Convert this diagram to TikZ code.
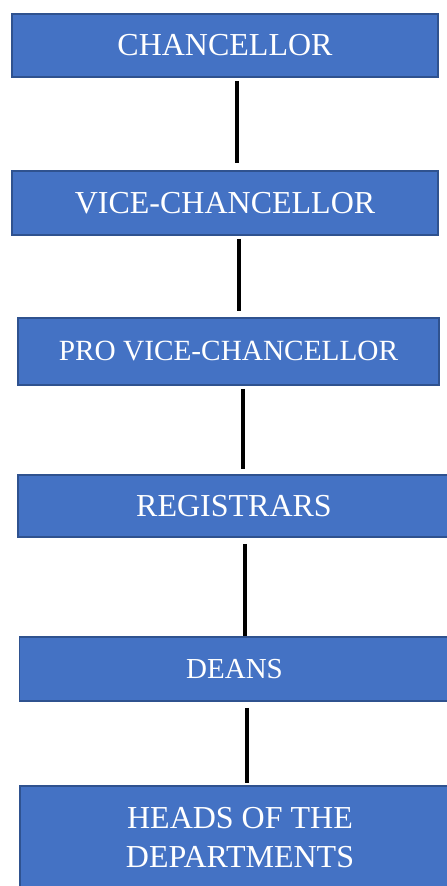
\documentclass[tikz,border=0pt]{standalone}
\usepackage{fontspec}
\setmainfont{Liberation Serif}
\definecolor{boxfill}{HTML}{4472C4}
\definecolor{boxline}{HTML}{2F528F}
\begin{document}
\begin{tikzpicture}[x=1pt,y=-1pt,
  orgbox/.style={draw=boxline, line width=1.6pt, fill=boxfill, text=white, inner sep=0pt, align=center, font=\fontsize{32}{39}\selectfont},
  link/.style={line width=3.2pt, black}]
\useasboundingbox (0,0) rectangle (447,886);
\clip (0,0) rectangle (447,886);
\node[orgbox, minimum width=426pt, minimum height=63pt] (c) at (225,45.5) {CHANCELLOR};
\node[orgbox, minimum width=426pt, minimum height=64pt] (v) at (225,203) {VICE-CHANCELLOR};
\node[orgbox, minimum width=421pt, minimum height=67pt, font=\fontsize{29.3}{35}\selectfont] (p) at (228.5,351.5) {PRO VICE-CHANCELLOR};
\node[orgbox, minimum width=432pt, minimum height=62pt] (r) at (234,506) {REGISTRARS};
\node[orgbox, minimum width=430pt, minimum height=64pt, font=\fontsize{29}{35}\selectfont] (d) at (234.5,669) {DEANS};
\node[orgbox, minimum width=440pt, minimum height=104pt] (h) at (240,838) {HEADS OF THE\\DEPARTMENTS};
\draw[link] ([xshift=12pt,yshift=-3pt]c.south) -- ([xshift=12pt,yshift=7pt]v.north);
\draw[link] ([xshift=14pt,yshift=-3pt]v.south) -- ([xshift=10.5pt,yshift=6pt]p.north);
\draw[link] ([xshift=14.5pt,yshift=-3pt]p.south) -- ([xshift=9pt,yshift=5pt]r.north);
\draw[link] ([xshift=11pt,yshift=-6pt]r.south) -- ([xshift=10.5pt,yshift=0pt]d.north);
\draw[link] ([xshift=12.5pt,yshift=-6pt]d.south) -- ([xshift=7pt,yshift=2pt]h.north);
\end{tikzpicture}
\end{document}
